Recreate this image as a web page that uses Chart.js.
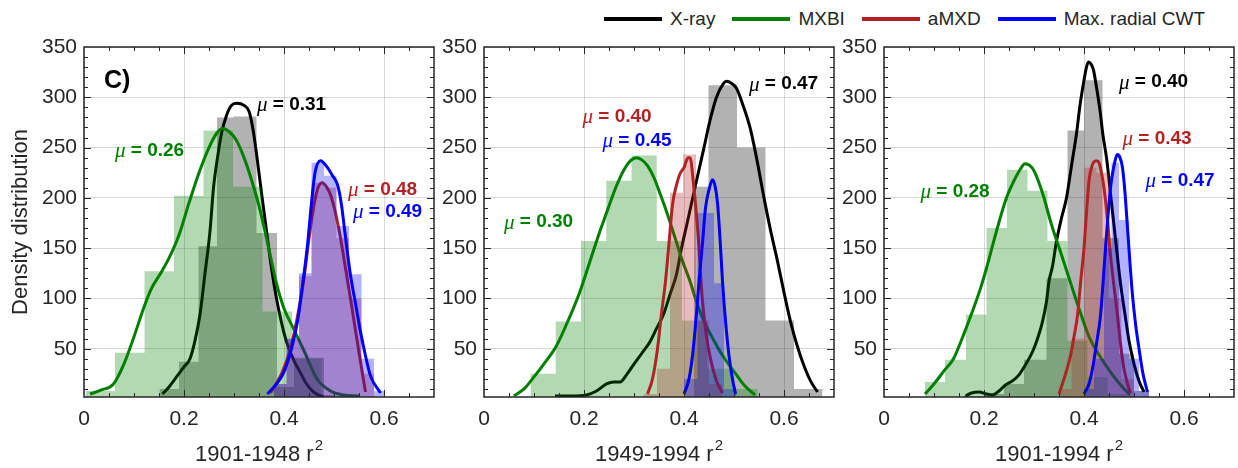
<!DOCTYPE html>
<html>
<head>
<meta charset="utf-8">
<script src="https://cdn.jsdelivr.net/npm/chart.js@4.4.0/dist/chart.umd.min.js"></script>
<style>
  body { margin: 0; background: #fff; }
  #wrap { position: relative; width: 1238px; height: 468px; overflow: hidden; font-family: "Liberation Sans", Arial, sans-serif; }
  canvas { position: absolute; top: 0; }
  #legend { position: absolute; top: 8px; left: 604px; display: flex; align-items: center; font-size: 19px; color: #262626; white-space: nowrap; }
  .item { display: flex; align-items: center; margin-right: 17px; }
  .swatch { width: 58px; height: 4px; margin-right: 8px; }
</style>
</head>
<body>
<div id="wrap">
  <div id="legend"></div>
  <canvas id="c1" width="440" height="468" style="left:0"></canvas>
  <canvas id="c2" width="400" height="468" style="left:440px"></canvas>
  <canvas id="c3" width="398" height="468" style="left:840px"></canvas>
</div>
<script>
// series (same order in every panel)
const seriesNames = ['X-ray', 'MXBI', 'aMXD', 'Max. radial CWT'];
const lineColors = ['#000000', '#008000', '#b22222', '#0000ff'];
const histColors = ['rgba(0,0,0,0.3)', 'rgba(0,128,0,0.3)', 'rgba(178,34,34,0.3)', 'rgba(0,0,255,0.3)'];

// axis ticks
const xTicks = [0, 0.2, 0.4, 0.6];
const yTicks = [50, 100, 150, 200, 250, 300, 350];
const periods = ['1901-1948', '1949-1994', '1901-1994'];

// ---- panel 1 : 1901-1948 ----
const p1XrayEdges = [0.151, 0.19, 0.229, 0.266, 0.299, 0.345, 0.386, 0.42, 0.48, 0.50];
const p1XrayCounts = [10, 37, 152, 280, 281, 165, 12, 41, 4];
const p1MxbiEdges = [0.003, 0.062, 0.121, 0.180, 0.239, 0.298, 0.357, 0.416, 0.475, 0.534];
const p1MxbiCounts = [8, 46, 127, 202, 267, 211, 87, 40, 3];
const p1AmxdEdges = [0.38, 0.405, 0.43, 0.455, 0.48, 0.505, 0.53, 0.555, 0.58];
const p1AmxdCounts = [15, 60, 122, 215, 210, 160, 100, 25];
const p1CwtEdges = [0.38, 0.405, 0.43, 0.455, 0.48, 0.505, 0.53, 0.555, 0.58, 0.6];
const p1CwtCounts = [15, 60, 125, 235, 222, 172, 124, 40, 8];

const p1XrayCurve = [[0.157,5],[0.17,12],[0.185,22],[0.2,32],[0.212,40],[0.222,58],[0.232,84],[0.242,125],[0.252,167],[0.259,210],[0.267,240],[0.275,264],[0.285,282],[0.295,292],[0.305,294],[0.32,292],[0.33,286],[0.338,268],[0.345,244],[0.355,205],[0.365,167],[0.375,130],[0.385,100],[0.395,76],[0.405,57],[0.42,38],[0.432,27],[0.445,15],[0.459,7],[0.479,2]];
const p1MxbiCurve = [[0.012,5],[0.035,9],[0.059,15],[0.08,35],[0.1,62],[0.119,90],[0.135,110],[0.152,124],[0.17,140],[0.19,163],[0.21,195],[0.23,225],[0.25,250],[0.265,264],[0.277,269],[0.29,266],[0.305,257],[0.32,240],[0.335,218],[0.35,192],[0.365,160],[0.385,115],[0.4,90],[0.419,70],[0.44,48],[0.466,20],[0.493,8],[0.52,4],[0.55,3]];
const p1AmxdCurve = [[0.373,6],[0.395,25],[0.413,50],[0.43,90],[0.44,120],[0.45,160],[0.46,193],[0.468,210],[0.476,215],[0.485,211],[0.493,203],[0.503,185],[0.513,160],[0.523,130],[0.533,100],[0.543,68],[0.553,37],[0.563,7]];
const p1CwtCurve = [[0.367,5],[0.385,15],[0.4,27],[0.415,50],[0.427,77],[0.437,113],[0.447,153],[0.455,195],[0.462,225],[0.473,237],[0.487,230],[0.497,222],[0.507,213],[0.515,193],[0.52,173],[0.533,123],[0.543,95],[0.553,67],[0.563,43],[0.573,23],[0.593,6]];
const p1Means = [0.31, 0.26, 0.48, 0.49];

// ---- panel 2 : 1949-1994 ----
const p2XrayEdges = [0.42, 0.449, 0.506, 0.563, 0.62, 0.677];
const p2XrayCounts = [211, 312, 250, 78, 10];
const p2MxbiEdges = [0.093, 0.1435, 0.194, 0.2445, 0.295, 0.3455, 0.396, 0.4465, 0.497, 0.5475];
const p2MxbiCounts = [25, 77, 157, 217, 242, 157, 78, 30, 10];
const p2AmxdEdges = [0.32, 0.346, 0.372, 0.398, 0.424, 0.45, 0.476];
const p2AmxdCounts = [5, 30, 205, 243, 78, 15];
const p2CwtEdges = [0.40, 0.427, 0.46, 0.48, 0.505];
const p2CwtCounts = [20, 185, 115, 10];

const p2XrayCurve = [[0.142,3],[0.175,3],[0.205,4],[0.225,8],[0.245,15],[0.26,17],[0.272,17],[0.285,24],[0.299,34],[0.315,45],[0.332,57],[0.345,70],[0.359,84],[0.372,104],[0.385,124],[0.395,150],[0.405,172],[0.425,217],[0.44,250],[0.452,277],[0.465,300],[0.478,313],[0.485,316],[0.495,314],[0.505,309],[0.518,292],[0.532,270],[0.545,240],[0.56,200],[0.573,168],[0.587,137],[0.6,106],[0.613,77],[0.627,52],[0.64,33],[0.653,18],[0.667,7]];
const p2MxbiCurve = [[0.06,3],[0.08,10],[0.1,22],[0.12,35],[0.145,53],[0.17,80],[0.192,107],[0.212,137],[0.232,167],[0.25,192],[0.265,212],[0.28,228],[0.293,237],[0.305,240],[0.315,238],[0.327,232],[0.34,220],[0.353,203],[0.366,185],[0.379,165],[0.395,140],[0.412,117],[0.428,92],[0.445,72],[0.46,58],[0.475,45],[0.49,34],[0.505,24],[0.52,14],[0.542,4]];
const p2AmxdCurve = [[0.327,5],[0.337,20],[0.347,50],[0.355,85],[0.363,117],[0.37,155],[0.377,193],[0.385,213],[0.392,224],[0.4,230],[0.408,240],[0.412,240],[0.419,214],[0.428,164],[0.437,97],[0.445,62],[0.453,40],[0.465,18],[0.477,6]];
const p2CwtCurve = [[0.4,5],[0.41,20],[0.417,43],[0.425,85],[0.43,117],[0.437,155],[0.443,190],[0.45,208],[0.457,218],[0.462,212],[0.467,195],[0.472,160],[0.477,117],[0.483,78],[0.49,43],[0.497,20],[0.503,5]];
const p2Means = [0.47, 0.30, 0.40, 0.45];

// ---- panel 3 : 1901-1994 ----
const p3XrayEdges = [0.16, 0.2, 0.24, 0.28, 0.325, 0.367, 0.40, 0.437, 0.47, 0.50, 0.53];
const p3XrayCounts = [3, 5, 15, 39, 120, 267, 317, 160, 45, 8];
const p3MxbiEdges = [0.082, 0.122, 0.164, 0.205, 0.246, 0.287, 0.327, 0.367, 0.407, 0.447, 0.487];
const p3MxbiCounts = [17, 39, 84, 170, 228, 207, 157, 58, 22, 5];
const p3AmxdEdges = [0.35, 0.375, 0.40, 0.425, 0.45, 0.475, 0.50];
const p3AmxdCounts = [10, 60, 230, 225, 100, 20];
const p3CwtEdges = [0.40, 0.42, 0.44, 0.455, 0.47, 0.49, 0.51, 0.53];
const p3CwtCounts = [10, 40, 150, 235, 178, 40, 8];

const p3XrayCurve = [[0.163,3],[0.175,6],[0.19,7],[0.205,5],[0.217,4],[0.23,8],[0.243,14],[0.257,18],[0.27,24],[0.283,34],[0.297,47],[0.307,60],[0.317,77],[0.325,97],[0.33,117],[0.337,132],[0.345,157],[0.355,180],[0.365,200],[0.375,232],[0.385,264],[0.392,292],[0.399,314],[0.405,330],[0.409,335],[0.414,333],[0.419,327],[0.425,310],[0.432,287],[0.438,262],[0.445,240],[0.455,195],[0.465,150],[0.473,115],[0.482,84],[0.49,58],[0.5,35],[0.51,18],[0.52,7]];
const p3MxbiCurve = [[0.082,5],[0.1,15],[0.12,28],[0.139,40],[0.16,65],[0.179,90],[0.193,110],[0.205,130],[0.225,167],[0.245,200],[0.26,217],[0.272,228],[0.282,234],[0.292,232],[0.3,227],[0.31,215],[0.32,200],[0.33,182],[0.339,167],[0.352,148],[0.365,128],[0.378,108],[0.39,90],[0.41,62],[0.435,40],[0.46,22],[0.475,13],[0.492,4]];
const p3AmxdCurve = [[0.35,5],[0.36,20],[0.373,43],[0.38,62],[0.387,83],[0.393,115],[0.4,150],[0.405,185],[0.41,217],[0.415,230],[0.42,236],[0.425,237],[0.43,235],[0.435,225],[0.44,210],[0.447,178],[0.453,143],[0.46,112],[0.467,83],[0.473,55],[0.48,30],[0.487,15],[0.493,6]];
const p3CwtCurve = [[0.4,5],[0.41,15],[0.417,30],[0.425,55],[0.433,83],[0.438,115],[0.443,150],[0.448,182],[0.453,210],[0.46,232],[0.467,243],[0.472,240],[0.477,230],[0.482,205],[0.487,170],[0.492,135],[0.497,103],[0.503,75],[0.51,50],[0.518,25],[0.527,7]];
const p3Means = [0.40, 0.28, 0.43, 0.47];

// where the mu labels sit (data coords, left edge / middle), per series
const p1LabelPos = [[0.346, 293], [0.062, 247], [0.528, 208], [0.538, 186]];
const p2LabelPos = [[0.53, 313], [0.04, 176], [0.197, 281], [0.237, 257]];
const p3LabelPos = [[0.47, 315], [0.073, 206], [0.477, 259], [0.523, 217]];

const TXT = '#262626';
const SANS = '"Liberation Sans", Arial, sans-serif';

// legend
const legendEl = document.getElementById('legend');
seriesNames.forEach((name, i) => {
  const it = document.createElement('div');
  it.className = 'item';
  it.innerHTML = '<div class="swatch" style="background:' + lineColors[i] + '"></div><span>' + name + '</span>';
  legendEl.appendChild(it);
});

function histPoints(edges, counts) {
  const pts = counts.map((c, i) => ({ x: edges[i], y: c }));
  pts.push({ x: edges[edges.length - 1], y: counts[counts.length - 1] });
  return pts;
}

// frame, inward ticks, x title with superscript and text labels (MATLAB look)
const framePlugin = {
  id: 'frame',
  afterDraw(chart, args, opts) {
    const { ctx, chartArea: a, scales: { x, y } } = chart;
    ctx.save();
    ctx.strokeStyle = TXT;
    ctx.lineWidth = 1;
    ctx.beginPath();
    for (let i = 1; i < 14; i++) {
      const px = Math.round(x.getPixelForValue(i * 0.05)) + 0.5;
      const len = (i % 4 === 0) ? 7 : 4;
      ctx.moveTo(px, a.bottom); ctx.lineTo(px, a.bottom - len);
      ctx.moveTo(px, a.top); ctx.lineTo(px, a.top + len);
    }
    for (let v = 10; v < 350; v += 10) {
      const py = Math.round(y.getPixelForValue(v)) + 0.5;
      const len = (v % 50 === 0) ? 7 : 4;
      ctx.moveTo(a.left, py); ctx.lineTo(a.left + len, py);
      ctx.moveTo(a.right, py); ctx.lineTo(a.right - len, py);
    }
    ctx.stroke();
    ctx.lineWidth = 1.5;
    ctx.strokeRect(a.left, a.top, a.right - a.left, a.bottom - a.top);

    // x title: "period r^2"
    ctx.fillStyle = TXT;
    ctx.textBaseline = 'middle';
    ctx.textAlign = 'left';
    ctx.font = '22px ' + SANS;
    const base = opts.period + ' r';
    const w1 = ctx.measureText(base).width;
    ctx.font = '15px ' + SANS;
    const w2 = ctx.measureText('2').width;
    const x0 = (a.left + a.right) / 2 - (w1 + w2 + 1) / 2;
    ctx.font = '22px ' + SANS;
    ctx.fillText(base, x0, 455);
    ctx.font = '15px ' + SANS;
    ctx.fillText('2', x0 + w1 + 1, 446);

    if (opts.tag) {
      ctx.fillStyle = '#000';
      ctx.font = 'bold 25px ' + SANS;
      ctx.fillText(opts.tag, x.getPixelForValue(0.04), y.getPixelForValue(316));
    }
    opts.labels.forEach(l => {
      const px = x.getPixelForValue(l.x), py = y.getPixelForValue(l.y);
      ctx.fillStyle = l.color;
      ctx.font = 'italic 21px "Liberation Serif", serif';
      ctx.fillText('\u03BC', px, py + 1);
      const w = ctx.measureText('\u03BC').width;
      ctx.font = 'bold 19px ' + SANS;
      ctx.fillText(' = ' + l.mean.toFixed(2), px + w, py);
    });
    ctx.restore();
  }
};

function makePanel(id, idx, hists, curves, means, labelPos, yWidth, padRight) {
  const datasets = [];
  for (let s = 0; s < 4; s++) {
    datasets.push({
      data: histPoints(hists[s][0], hists[s][1]),
      stepped: true,
      borderWidth: 0,
      borderColor: 'transparent',
      backgroundColor: histColors[s],
      fill: 'origin',
      pointRadius: 0
    });
    datasets.push({
      data: curves[s].map(p => ({ x: p[0], y: p[1] })),
      borderColor: lineColors[s],
      borderWidth: 3,
      fill: false,
      pointRadius: 0,
      cubicInterpolationMode: 'monotone'
    });
  }
  datasets.forEach((d, i) => { d.order = datasets.length - i; });

  const labels = labelPos.map((p, s) => ({ x: p[0], y: p[1], mean: means[s], color: lineColors[s] }));

  new Chart(document.getElementById(id), {
    type: 'line',
    data: { datasets },
    plugins: [framePlugin],
    options: {
      responsive: false,
      animation: false,
      layout: { padding: { top: 47, right: padRight, left: 0, bottom: 0 } },
      plugins: {
        legend: { display: false },
        tooltip: { enabled: false },
        frame: { labels, period: periods[idx], tag: idx === 0 ? 'C)' : '' }
      },
      scales: {
        x: {
          type: 'linear', min: 0, max: 0.7,
          afterBuildTicks: s => { s.ticks = xTicks.map(v => ({ value: v })); },
          afterFit: s => { s.height = 71; },
          border: { display: false },
          grid: { color: 'rgba(0,0,0,0.15)', drawTicks: false },
          ticks: { padding: 10, color: TXT, font: { family: SANS, size: 21 },
                   callback: v => v === 0 ? '0' : v.toFixed(1) }
        },
        y: {
          type: 'linear', min: 2, max: 350,
          afterBuildTicks: s => { s.ticks = yTicks.map(v => ({ value: v })); },
          afterFit: s => { s.width = yWidth; },
          border: { display: false },
          grid: { color: 'rgba(0,0,0,0.15)', drawTicks: false },
          ticks: { padding: 7, color: TXT, font: { family: SANS, size: 21 } },
          title: { display: idx === 0, text: 'Density distribution', color: TXT,
                   font: { family: SANS, size: 22 }, padding: { top: 8, bottom: 0 } }
        }
      }
    }
  });
}

makePanel('c1', 0,
  [[p1XrayEdges, p1XrayCounts], [p1MxbiEdges, p1MxbiCounts], [p1AmxdEdges, p1AmxdCounts], [p1CwtEdges, p1CwtCounts]],
  [p1XrayCurve, p1MxbiCurve, p1AmxdCurve, p1CwtCurve], p1Means, p1LabelPos, 84, 6);
makePanel('c2', 1,
  [[p2XrayEdges, p2XrayCounts], [p2MxbiEdges, p2MxbiCounts], [p2AmxdEdges, p2AmxdCounts], [p2CwtEdges, p2CwtCounts]],
  [p2XrayCurve, p2MxbiCurve, p2AmxdCurve, p2CwtCurve], p2Means, p2LabelPos, 44, 6);
makePanel('c3', 2,
  [[p3XrayEdges, p3XrayCounts], [p3MxbiEdges, p3MxbiCounts], [p3AmxdEdges, p3AmxdCounts], [p3CwtEdges, p3CwtCounts]],
  [p3XrayCurve, p3MxbiCurve, p3AmxdCurve, p3CwtCurve], p3Means, p3LabelPos, 44, 4);
</script>
</body>
</html>
